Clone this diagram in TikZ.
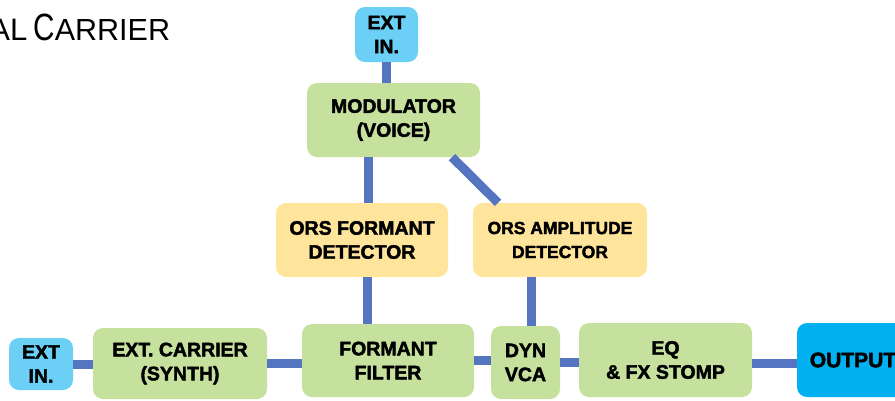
\documentclass[tikz,border=0pt]{standalone}
\usepackage{fontspec}
\setmainfont{Liberation Sans}
\newfontfamily\boxfont{Liberation Sans Bold}[FakeBold=2.2]
\definecolor{grn}{RGB}{198,224,158}
\definecolor{org}{RGB}{255,228,155}
\definecolor{lblu}{RGB}{108,207,246}
\definecolor{oblu}{RGB}{0,176,240}
\definecolor{lnk}{RGB}{86,117,192}
\begin{document}
\begin{tikzpicture}[x=1pt,y=-1pt,
  box/.style={rounded corners=10pt, inner sep=0pt, align=center,
    font=\boxfont\fontsize{19.5}{24}\selectfont, text=black},
  gbox/.style={box, fill=grn},
  obox/.style={box, fill=org},
  ibox/.style={box, fill=lblu},
  link/.style={line width=9pt, draw=lnk}]
\useasboundingbox (0,0) rectangle (895,400);

\node[anchor=base west, inner sep=0pt] (title) at (-10.7,40)
  {{\fontsize{31}{31}\selectfont AL}\hspace{6pt}{\fontsize{38}{38}\selectfont\scalebox{0.78}[1]{C}}{\fontsize{30.5}{31}\selectfont ARRIER}};

\node[ibox, minimum width=63pt, minimum height=55pt] (extT) at (386.5,34.5) {EXT\\IN.};
\node[gbox, minimum width=173pt, minimum height=74pt] (mod) at (393.5,120) {MODULATOR\\(VOICE)};
\node[obox, minimum width=172pt, minimum height=74pt] (fdet) at (362,240) {ORS FORMANT\\DETECTOR};
\node[obox, minimum width=174pt, minimum height=74pt, font=\boxfont\fontsize{17.5}{24}\selectfont] (adet) at (560,240) {ORS AMPLITUDE\\DETECTOR};

\node[ibox, minimum width=64pt, minimum height=52pt] (extL) at (41,364) {EXT\\IN.};
\node[gbox, minimum width=174pt, minimum height=71pt] (car) at (180,363.5) {EXT. CARRIER\\(SYNTH)};
\node[gbox, minimum width=172pt, minimum height=73pt] (ff) at (388,360.5) {FORMANT\\FILTER};
\node[gbox, minimum width=69pt, minimum height=73pt] (dyn) at (525.5,362.5) {DYN\\VCA};
\node[gbox, minimum width=173pt, minimum height=74pt] (eq) at (665.5,360) {EQ\\\& FX STOMP};
\node[box, fill=oblu, minimum width=112pt, minimum height=74pt, font=\boxfont\fontsize{21}{24}\selectfont] (out) at (853,360) {OUTPUT};

\draw[link] (extT.south) -- (extT.south |- mod.north);
\draw[link] ([xshift=6pt]fdet.north) -- ([xshift=6pt]fdet.north |- mod.south);
\draw[link] ([xshift=58.5pt]mod.south) -- ([xshift=-62pt]adet.north);
\draw[link] ([xshift=5pt]fdet.south) -- ([xshift=5pt]fdet.south |- ff.north);
\draw[link] ([xshift=-29pt]adet.south) -- ([xshift=-29pt]adet.south |- dyn.north);

\draw[link] (extL.east) -- (extL.east -| car.west);
\draw[link] (car.east) -- (car.east -| ff.west);
\draw[link] (ff.east) -- (ff.east -| dyn.west);
\draw[link] (dyn.east) -- (dyn.east -| eq.west);
\draw[link] ([yshift=-3pt]eq.east) -- ([yshift=-3pt]eq.east -| out.west);
\end{tikzpicture}
\end{document}
